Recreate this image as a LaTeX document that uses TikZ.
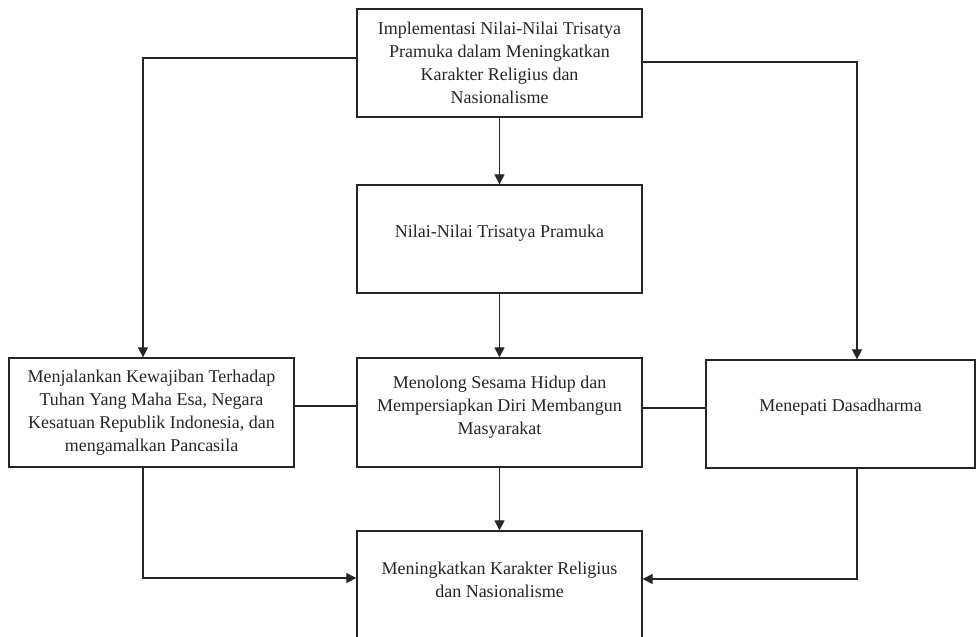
\documentclass[tikz,border=0pt]{standalone}
\usepackage{fontspec}
\setmainfont{Liberation Serif}
\usetikzlibrary{arrows.meta,calc}
\begin{document}
\begin{tikzpicture}[x=1pt,y=-1pt,
  box/.style={draw=black!85,line width=1.3pt,inner sep=0pt,align=center,
    font=\fontsize{18}{23}\selectfont,text=black!85},
  lbl/.style={inner sep=0pt,align=center,font=\fontsize{18}{23}\selectfont,text=black!85},
  conn/.style={draw=black!85,line width=1.2pt},
  arr/.style={conn,-{Triangle[length=10pt,width=10pt]}}]
\useasboundingbox (0,0) rectangle (980,637);
\fill[white] (0,0) rectangle (980,637);
\node[box,minimum width=285pt,minimum height=108pt] (top) at (499.5,63)
  {Implementasi Nilai-Nilai Trisatya\\Pramuka dalam Meningkatkan\\Karakter Religius dan\\Nasionalisme};
\node[box,minimum width=285pt,minimum height=108pt,
  label={[lbl,yshift=6pt]center:Nilai-Nilai Trisatya Pramuka}] (mid) at (499.5,239) {};
\node[box,minimum width=285pt,minimum height=109pt,
  label={[lbl,yshift=5pt]center:Menolong Sesama Hidup dan\\Mempersiapkan Diri Membangun\\Masyarakat}] (cen) at (499.5,412.5) {};
\node[box,minimum width=285pt,minimum height=109pt] (lft) at (151.5,412.5)
  {Menjalankan Kewajiban Terhadap\\Tuhan Yang Maha Esa, Negara\\Kesatuan Republik Indonesia, dan\\mengamalkan Pancasila};
\node[box,minimum width=269pt,minimum height=108pt,
  label={[lbl,yshift=7pt]center:Menepati Dasadharma}] (rgt) at (840.5,414) {};
\node[box,minimum width=285pt,minimum height=129pt,
  label={[lbl,yshift=15.5pt]center:Meningkatkan Karakter Religius\\dan Nasionalisme}] (bot) at (499.5,595.5) {};
% vertical chain
\draw[arr] (top.south) -- (mid.north);
\draw[arr] (mid.south) -- (cen.north);
\draw[arr] (cen.south) -- (bot.north);
% top to left and right
\draw[arr] ([yshift=5pt]top.west) -| ([xshift=-8.5pt]lft.north);
\draw[arr] ([yshift=1pt]top.east) -| ([xshift=16.5pt]rgt.north);
% side links
\draw[conn] ([yshift=6.5pt]lft.east) -- ([yshift=6.5pt]cen.west);
\draw[conn] ([yshift=4.5pt]cen.east) -- ([yshift=4.5pt]cen.east -| rgt.west);
% bottom links
\draw[arr] ([xshift=-8.5pt]lft.south) |- ([yshift=17.5pt]bot.west);
\draw[arr] ([xshift=16.5pt]rgt.south) |- ([yshift=16.5pt]bot.east);
\end{tikzpicture}
\end{document}
